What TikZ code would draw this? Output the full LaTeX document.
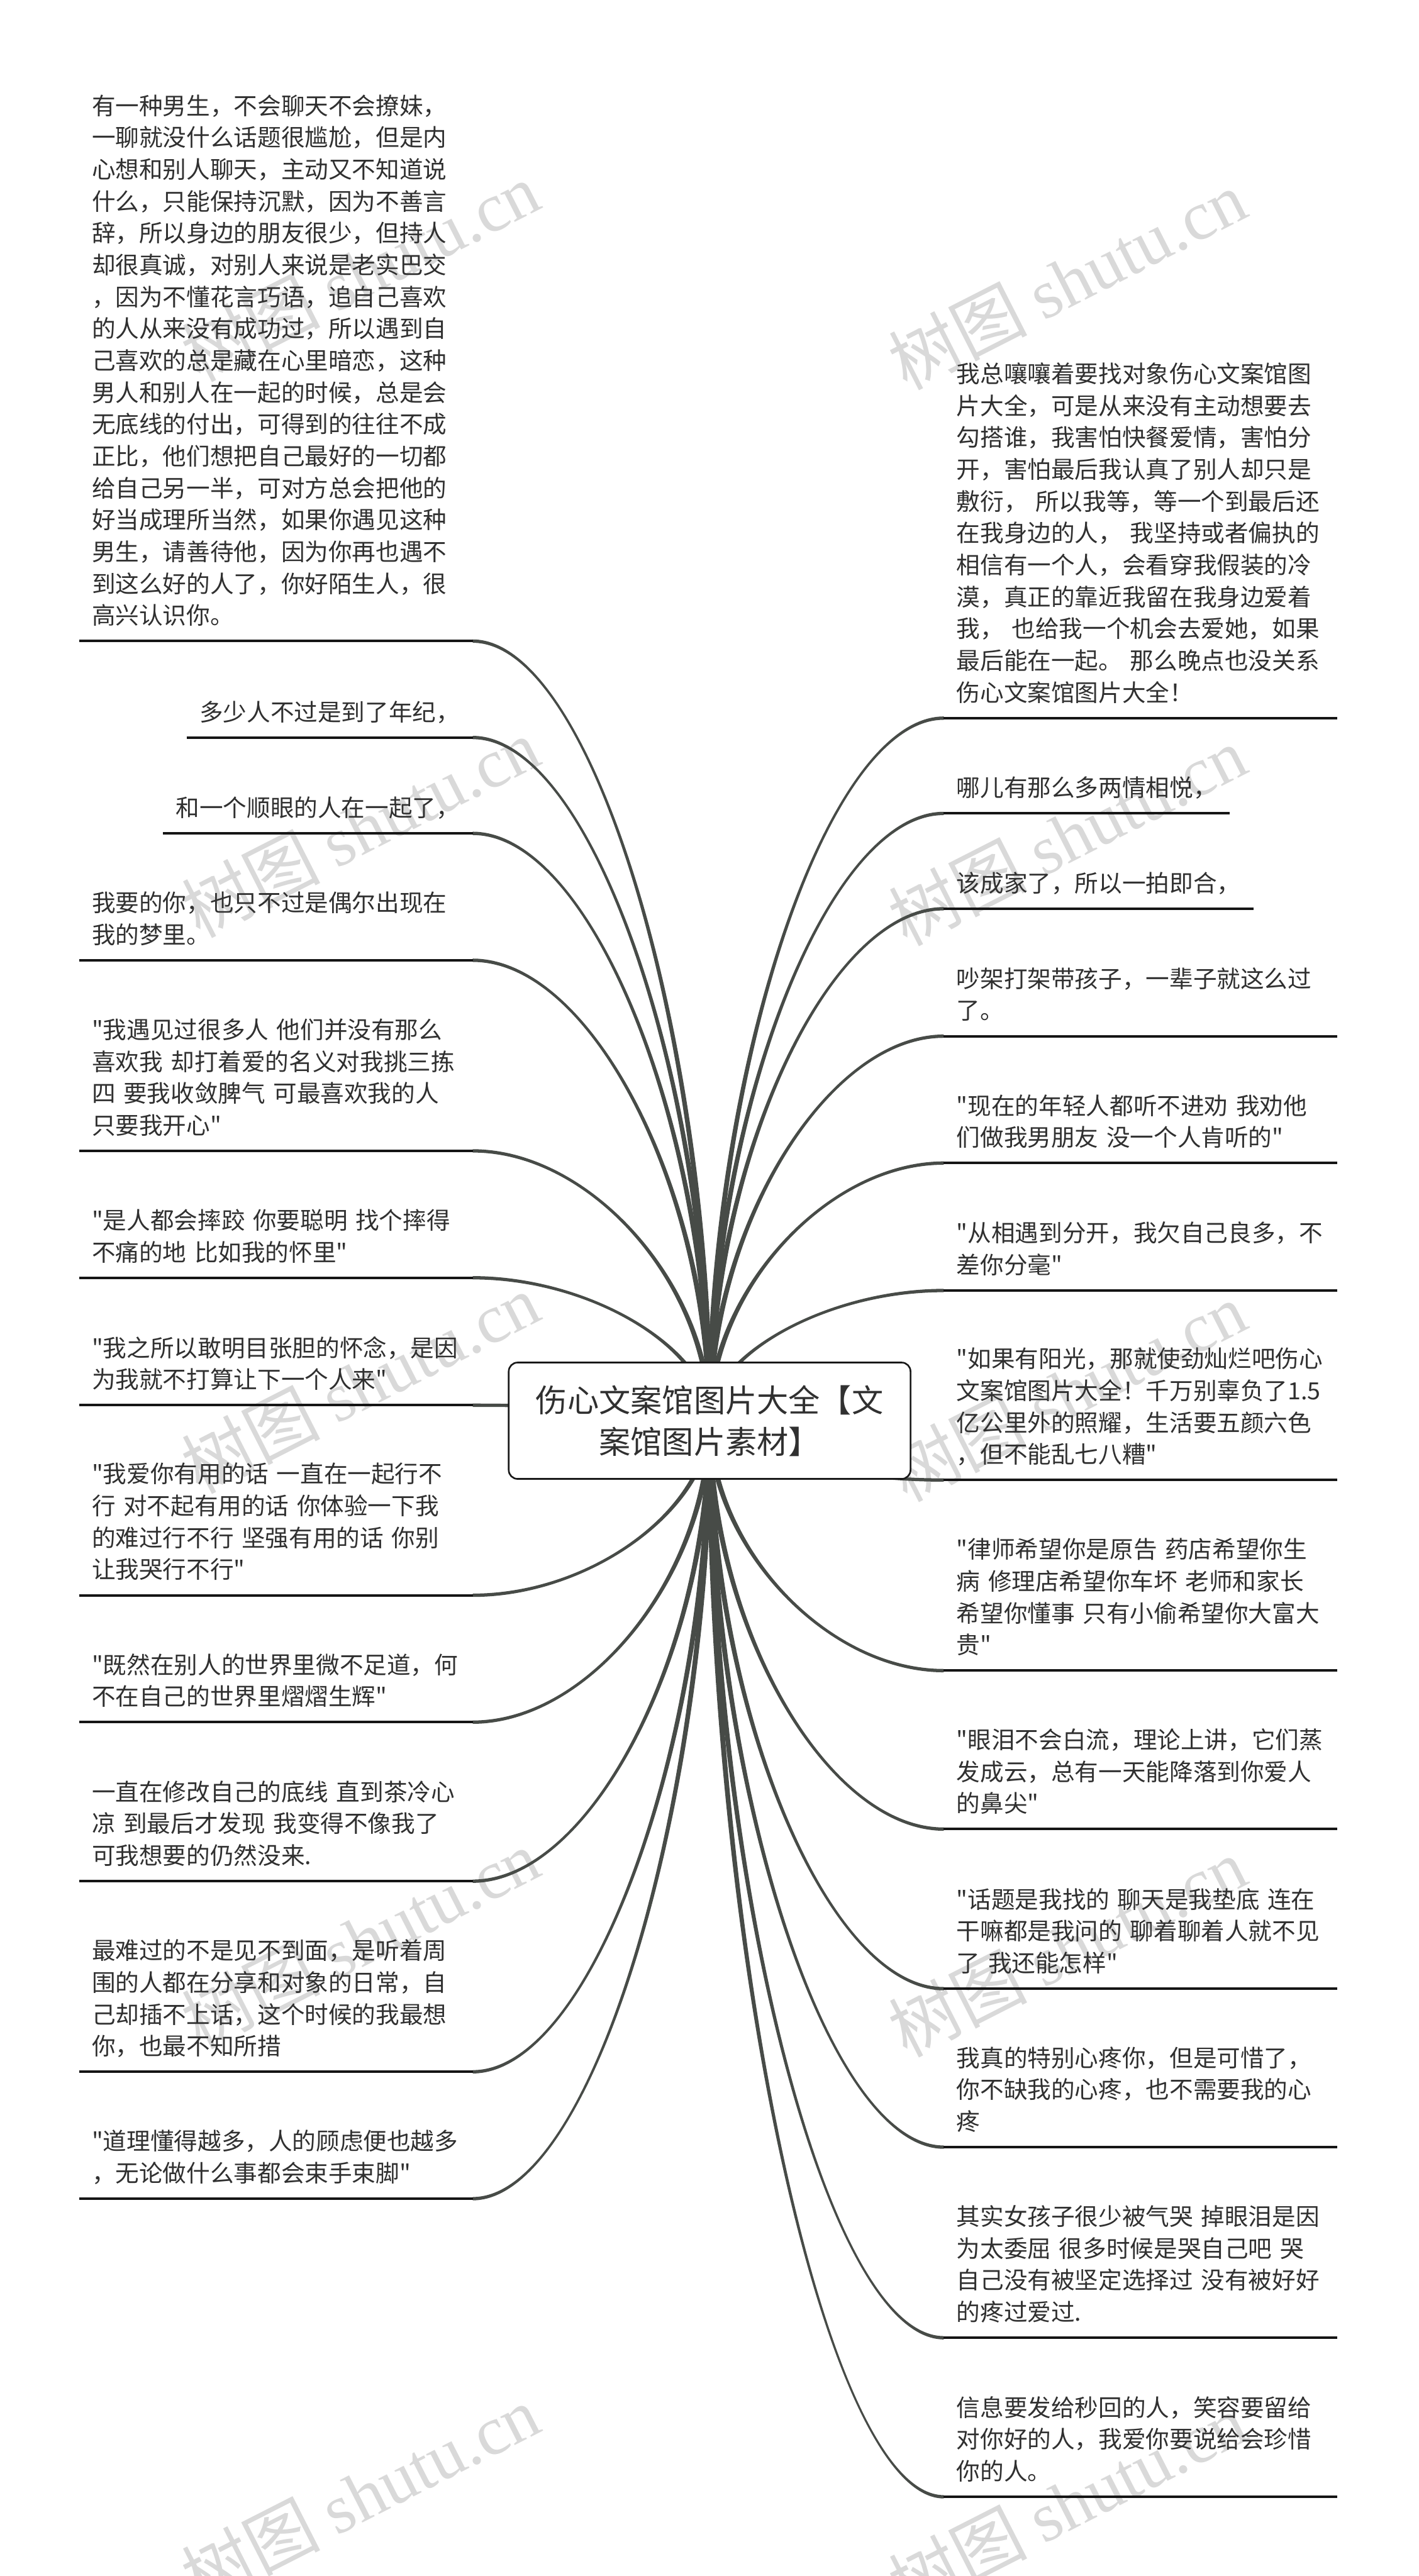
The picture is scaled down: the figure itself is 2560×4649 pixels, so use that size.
\documentclass[tikz,border=0pt]{standalone}
\usepackage{fontspec}
\setmainfont{Noto Sans CJK SC}[Ligatures=TeXOff]
\newfontfamily\wmserif{Liberation Serif}
\usetikzlibrary{calc}
\pgfdeclarelayer{bg}
\pgfsetlayers{bg,main}
\definecolor{txt}{HTML}{303030}
\definecolor{conncol}{HTML}{474B47}
\definecolor{ulcol}{HTML}{151515}
\definecolor{wmcol}{HTML}{D9D9D9}
\tikzset{
  leaf/.style={font=\fontsize{42.7pt}{57.5pt}\selectfont, text=txt, inner xsep=23pt, inner ysep=0pt, align=left,
    execute at end node={\rule[-30pt]{0pt}{1pt}}},
  wide/.style={text width=664pt},
  lleaf/.style={leaf, anchor=south east},
  rleaf/.style={leaf, anchor=south west},
  uline/.style={draw=ulcol, line width=4.5pt},
  rootbox/.style={draw=black!90, line width=3pt, rounded corners=16pt, fill=white, minimum width=725pt,
    minimum height=210pt, align=center, font=\fontsize{57pt}{75pt}\selectfont, text=txt, inner sep=0pt},
  wm/.style={text=wmcol, rotate=27, font=\fontsize{125pt}{125pt}\selectfont, inner sep=0pt},
}
\newcommand\conn[3]{%
  \fill[conncol] let \p1=(#1), \p2=(#2), \n1={0.5*\x1+0.5*\x2}, \n2={0.5*\y1+0.5*\y2} in
    (\x1,{\y1+3pt}) .. controls ({\n1*1pt},{\y1+3pt}) and ({\x2+(#3)*5pt},{\n2*1pt}) .. ({\x2+(#3)*5pt},\y2)
    -- ({\x2-(#3)*5pt},\y2) .. controls ({\x2-(#3)*5pt},{\n2*1pt}) and ({\n1*1pt},{\y1-3pt}) .. (\x1,{\y1-3pt}) -- cycle;}
\begin{document}
\begin{tikzpicture}[x=1pt,y=-1pt]
\useasboundingbox (0,0) rectangle (2560,4649);
\begin{pgfonlayer}{bg}
\fill[white] (0,0) rectangle (2560,4649);
\begin{scope}
\clip (0,0) rectangle (2560,4649);
\foreach \k in {0,...,4} {
  \node[wm] (wl\k) at (650,490+1003*\k) {树图 {\wmserif shutu.cn}};
  \node[wm] (wr\k) at (1925,505+1003*\k) {树图 {\wmserif shutu.cn}};
}
\end{scope}
\end{pgfonlayer}

\node[rootbox] (root) at (1280.5,2564) {伤心文案馆图片大全【文\\案馆图片素材】};

% left leaves
\node[lleaf,wide] (L1) at (853,1157) {有一种男生，不会聊天不会撩妹，\\一聊就没什么话题很尴尬，但是内\\心想和别人聊天，主动又不知道说\\什么，只能保持沉默，因为不善言\\辞，所以身边的朋友很少，但持人\\却很真诚，对别人来说是老实巴交\\，因为不懂花言巧语，追自己喜欢\\的人从来没有成功过，所以遇到自\\己喜欢的总是藏在心里暗恋，这种\\男人和别人在一起的时候，总是会\\无底线的付出，可得到的往往不成\\正比，他们想把自己最好的一切都\\给自己另一半，可对方总会把他的\\好当成理所当然，如果你遇见这种\\男生，请善待他，因为你再也遇不\\到这么好的人了，你好陌生人，很\\高兴认识你。};
\node[lleaf] (L2) at (853,1331) {多少人不过是到了年纪，};
\node[lleaf] (L3) at (853,1504) {和一个顺眼的人在一起了，};
\node[lleaf,wide] (L4) at (853,1733) {我要的你，也只不过是偶尔出现在\\我的梦里。};
\node[lleaf,wide] (L5) at (853,2077) {"我遇见过很多人 他们并没有那么\\喜欢我 却打着爱的名义对我挑三拣\\四 要我收敛脾气 可最喜欢我的人\\只要我开心"};
\node[lleaf,wide] (L6) at (853,2306) {"是人都会摔跤 你要聪明 找个摔得\\不痛的地 比如我的怀里"};
\node[lleaf,wide] (L7) at (853,2536) {"我之所以敢明目张胆的怀念，是因\\为我就不打算让下一个人来"};
\node[lleaf,wide] (L8) at (853,2879) {"我爱你有用的话 一直在一起行不\\行 对不起有用的话 你体验一下我\\的难过行不行 坚强有用的话 你别\\让我哭行不行"};
\node[lleaf,wide] (L9) at (853,3108) {"既然在别人的世界里微不足道，何\\不在自己的世界里熠熠生辉"};
\node[lleaf,wide] (L10) at (853,3395) {一直在修改自己的底线 直到茶冷心\\凉 到最后才发现 我变得不像我了\\可我想要的仍然没来.};
\node[lleaf,wide] (L11) at (853,3739) {最难过的不是见不到面，是听着周\\围的人都在分享和对象的日常，自\\己却插不上话，这个时候的我最想\\你，也最不知所措};
\node[lleaf,wide] (L12) at (853,3968) {"道理懂得越多，人的顾虑便也越多\\，无论做什么事都会束手束脚"};

% right leaves
\node[rleaf,wide] (R1) at (1703,1296) {我总嚷嚷着要找对象伤心文案馆图\\片大全，可是从来没有主动想要去\\勾搭谁，我害怕快餐爱情，害怕分\\开，害怕最后我认真了别人却只是\\敷衍， 所以我等，等一个到最后还\\在我身边的人， 我坚持或者偏执的\\相信有一个人，会看穿我假装的冷\\漠，真正的靠近我留在我身边爱着\\我， 也给我一个机会去爱她，如果\\最后能在一起。 那么晚点也没关系\\伤心文案馆图片大全！};
\node[rleaf] (R2) at (1703,1468) {哪儿有那么多两情相悦，};
\node[rleaf] (R3) at (1703,1640) {该成家了，所以一拍即合，};
\node[rleaf,wide] (R4) at (1703,1870) {吵架打架带孩子，一辈子就这么过\\了。};
\node[rleaf,wide] (R5) at (1703,2099) {"现在的年轻人都听不进劝 我劝他\\们做我男朋友 没一个人肯听的"};
\node[rleaf,wide] (R6) at (1703,2329) {"从相遇到分开，我欠自己良多，不\\差你分毫"};
\node[rleaf,wide] (R7) at (1703,2671) {"如果有阳光，那就使劲灿烂吧伤心\\文案馆图片大全！千万别辜负了1.5\\亿公里外的照耀，生活要五颜六色\\，但不能乱七八糟"};
\node[rleaf,wide] (R8) at (1703,3015) {"律师希望你是原告 药店希望你生\\病 修理店希望你车坏 老师和家长\\希望你懂事 只有小偷希望你大富大\\贵"};
\node[rleaf,wide] (R9) at (1703,3301) {"眼泪不会白流，理论上讲，它们蒸\\发成云，总有一天能降落到你爱人\\的鼻尖"};
\node[rleaf,wide] (R10) at (1703,3589) {"话题是我找的 聊天是我垫底 连在\\干嘛都是我问的 聊着聊着人就不见\\了 我还能怎样"};
\node[rleaf,wide] (R11) at (1703,3875) {我真的特别心疼你，但是可惜了，\\你不缺我的心疼，也不需要我的心\\疼};
\node[rleaf,wide] (R12) at (1703,4219) {其实女孩子很少被气哭 掉眼泪是因\\为太委屈 很多时候是哭自己吧 哭\\自己没有被坚定选择过 没有被好好\\的疼过爱过.};
\node[rleaf,wide] (R13) at (1703,4506) {信息要发给秒回的人，笑容要留给\\对你好的人，我爱你要说给会珍惜\\你的人。};

% underlines
\foreach \nm in {L1,L2,L3,L4,L5,L6,L7,L8,L9,L10,L11,L12,R1,R2,R3,R4,R5,R6,R7,R8,R9,R10,R11,R12,R13}
  \draw[uline] (\nm.south west) -- (\nm.south east);

% connectors
\begin{pgfonlayer}{bg}
\foreach \nm in {L1,L2,L3,L4,L5,L6,L7} {\conn{\nm.south east}{root.center}{1}}
\foreach \nm in {L8,L9,L10,L11,L12} {\conn{\nm.south east}{root.center}{-1}}
\foreach \nm in {R1,R2,R3,R4,R5,R6} {\conn{\nm.south west}{root.center}{-1}}
\foreach \nm in {R7,R8,R9,R10,R11,R12,R13} {\conn{\nm.south west}{root.center}{1}}
\end{pgfonlayer}
\end{tikzpicture}
\end{document}
